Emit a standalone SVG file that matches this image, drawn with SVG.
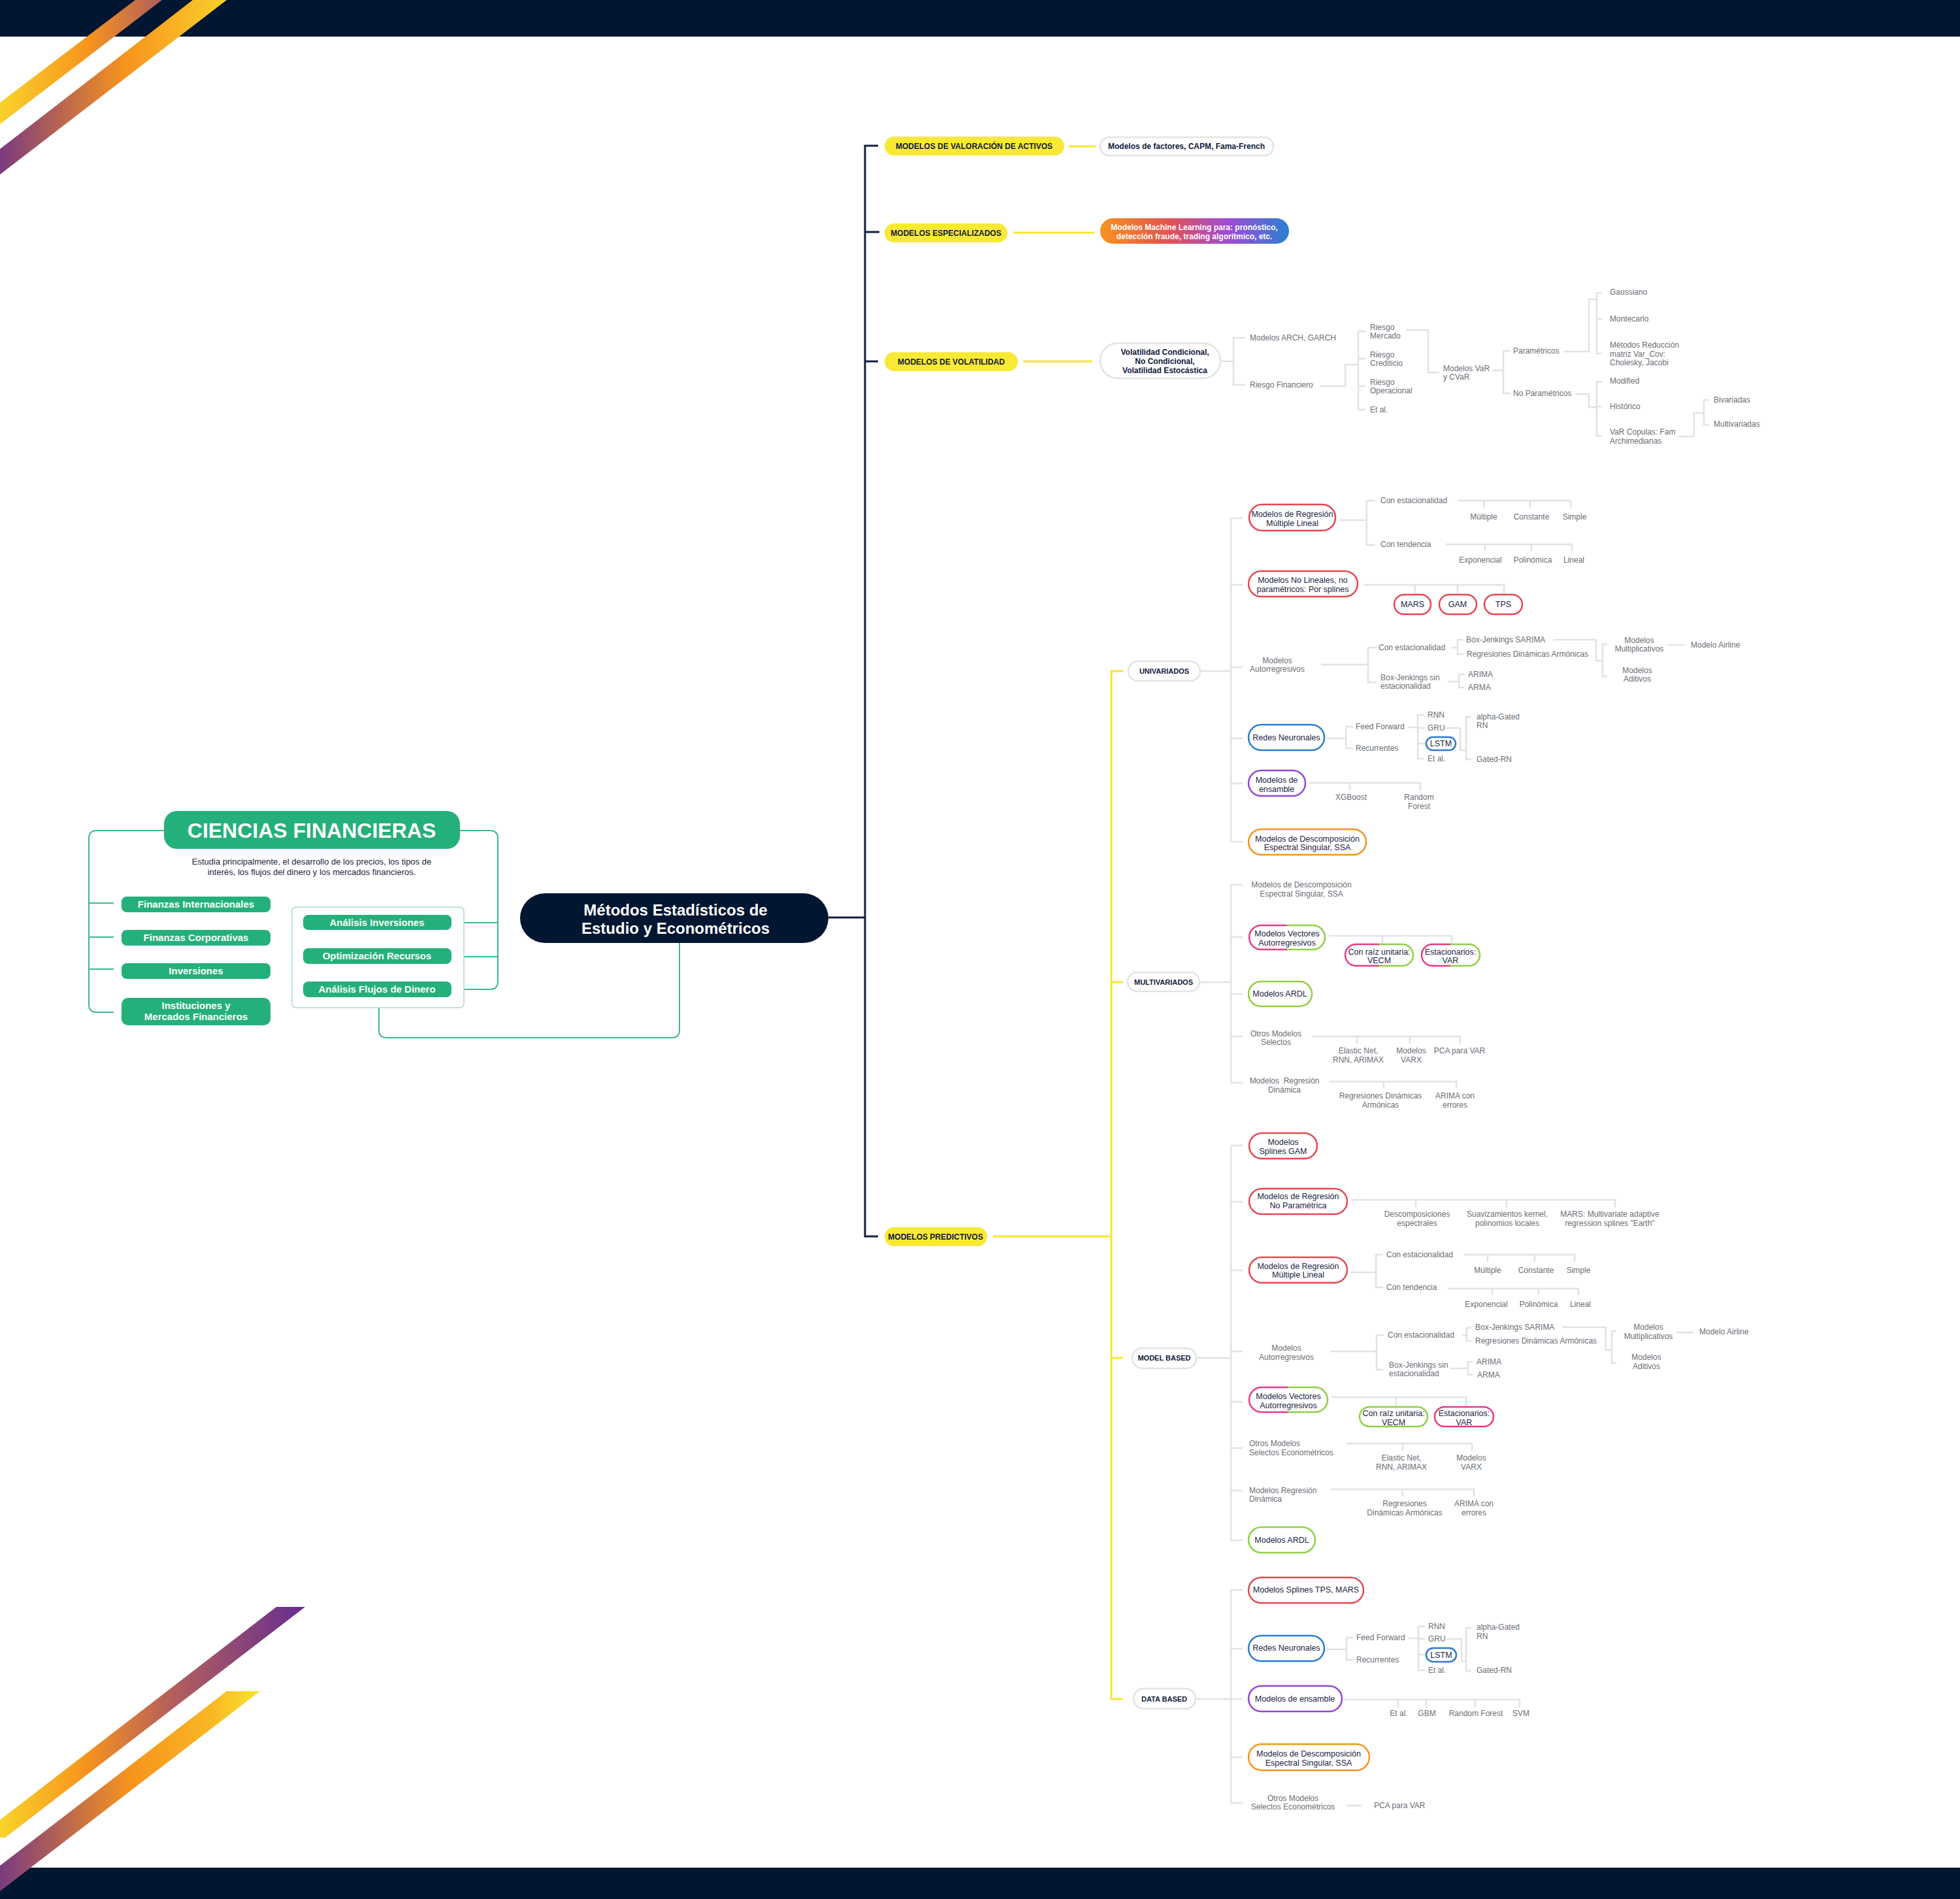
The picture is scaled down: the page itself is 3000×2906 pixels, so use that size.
<svg xmlns="http://www.w3.org/2000/svg" width="3000" height="2906" viewBox="0 0 3000 2906">
<defs>
<linearGradient id="s1" gradientUnits="userSpaceOnUse" x1="0" y1="0" x2="250" y2="0"><stop offset="0" stop-color="#f9d22a"/><stop offset="0.55" stop-color="#f7931e"/><stop offset="1" stop-color="#ae5c5e"/></linearGradient>
<linearGradient id="s2" gradientUnits="userSpaceOnUse" x1="0" y1="0" x2="347" y2="0"><stop offset="0" stop-color="#7b3a80"/><stop offset="0.55" stop-color="#f7931e"/><stop offset="1" stop-color="#f9d02a"/></linearGradient>
<linearGradient id="s3" gradientUnits="userSpaceOnUse" x1="0" y1="0" x2="467" y2="0"><stop offset="0" stop-color="#f9d32a"/><stop offset="0.28" stop-color="#f7941d"/><stop offset="0.55" stop-color="#b7615a"/><stop offset="1" stop-color="#652d91"/></linearGradient>
<linearGradient id="s4" gradientUnits="userSpaceOnUse" x1="0" y1="0" x2="398" y2="0"><stop offset="0" stop-color="#7b3a80"/><stop offset="0.5" stop-color="#f7941d"/><stop offset="0.8" stop-color="#f8b524"/><stop offset="1" stop-color="#f9e52c"/></linearGradient>
<linearGradient id="ml" x1="0" y1="0" x2="1" y2="0"><stop offset="0" stop-color="#f7931e"/><stop offset="0.35" stop-color="#e5534f"/><stop offset="0.68" stop-color="#9f4bd6"/><stop offset="1" stop-color="#2b80d1"/></linearGradient>
<linearGradient id="pg" x1="0" y1="0" x2="1" y2="0"><stop offset="0" stop-color="#e93a82"/><stop offset="0.5" stop-color="#e93a82"/><stop offset="0.5" stop-color="#8fd042"/><stop offset="1" stop-color="#8fd042"/></linearGradient>
</defs>
<style>
text{font-family:'Liberation Sans',Arial,sans-serif}
.lf{fill:#6a6e75;font-size:12px}
.pt{fill:#1a2444;font-size:12.5px}
.b{font-weight:700}
.m{text-anchor:middle}
.yb{fill:#f8e936}
.yt{fill:#10193a;font-size:12px;font-weight:700;text-anchor:middle}
.ct{fill:#10193a;font-size:11px;font-weight:700;text-anchor:middle}
.wp{fill:#fff;stroke:#e3e3e3;stroke-width:2.5}
.red{fill:#fff;stroke:#e6474f;stroke-width:2.5}
.blu{fill:#fff;stroke:#2b7bd1;stroke-width:2.5}
.pur{fill:#fff;stroke:#9346d6;stroke-width:2.5}
.ora{fill:#fff;stroke:#f4931f;stroke-width:2.5}
.grn{fill:#fff;stroke:#8fd042;stroke-width:2.5}
.pnk{fill:#fff;stroke:#e93a82;stroke-width:2.5}
.pgb{fill:#fff;stroke:url(#pg);stroke-width:2.5}
.gp{fill:#24b07a}
.wt{fill:#fff;font-weight:700;font-size:15px;text-anchor:middle}
.g{fill:none;stroke:#e2e2e2;stroke-width:2.5}
.y{fill:none;stroke:#f7e62f;stroke-width:3}
.n{fill:none;stroke:#13203f;stroke-width:3}
.gl{fill:none;stroke:#3cb88a;stroke-width:2}
</style>
<rect x="0" y="0" width="3000" height="2906" fill="#fff"/>
<g id="decor">
<rect x="0" y="0" width="3000" height="56" fill="#011631"/>
<rect x="0" y="2858" width="3000" height="48" fill="#011631"/>
<polygon points="0,157 207,0 248,0 0,190" fill="url(#s1)"/>
<polygon points="0,228 295,0 347,0 0,267" fill="url(#s2)"/>
<polygon points="423,2459 467,2459 8,2812 0,2812 0,2785" fill="url(#s3)"/>
<polygon points="347,2588 398,2588 0,2894 0,2855" fill="url(#s4)"/>
</g>
<g id="connectors">
<path class="gl" d="M251,1271 H148 Q136,1271 136,1283 V1537 Q136,1549 148,1549 H174 M136,1382 H174 M136,1434 H174 M136,1483 H174"/>
<path class="gl" d="M704,1271 H750 Q762,1271 762,1283 V1502 Q762,1514 750,1514 H700 M700,1412 H762 M700,1464 H762"/>
<path class="gl" d="M580,1542 V1576 Q580,1588 592,1588 H1028 Q1040,1588 1040,1576 V1443"/>
<path class="n" d="M1268,1404 H1324 M1344,223 H1324 V1892 H1344 M1324,355 H1346 M1324,553 H1344"/>
<path class="y" d="M1636,224 H1677 M1551,356 H1675 M1566,553 H1672 M1520,1892 H1701 M1719,1027 H1701 V2600 H1719 M1701,1503 H1719 M1701,2078 H1719"/>
<path class="g" d="M1870,553 H1888 M1906,517 H1888 V589 H1906 M2020,591 H2059 V558 H2079 M2090,507 H2079 V627 H2090 M2079,549 H2090 M2079,591 H2090 M2152,505 H2186 V570 H2203 M2285,567 H2301 M2312,537 H2301 V602 H2312 M2394,538 H2432 V458 H2444 M2452,448 H2444 V541 H2452 M2444,488 H2452 M2412,603 H2432 V623 H2444 M2452,584 H2444 V667 H2452 M2444,622 H2452 M2568,668 H2593 V632 H2608 M2616,612 H2608 V650 H2616"/>
<path class="g" d="M1837,1027 H1884 M1836,1503 H1884 M1831,2078 H1884 M1830,2600 H1884"/>
<path class="g" d="M1884,793 V1288 M1884,793 H1902 M1884,895 H1902 M1884,1021 H1902 M1884,1130 H1902 M1884,1199 H1902 M1884,1288 H1902"/>
<path class="g" d="M2050,796 H2092 M2105,766 H2092 V834 H2105 M2232,766 H2404 V777 M2271,766 V777 M2342,766 V777 M2212,833 H2406 V843 M2273,833 V843 M2344,833 V843"/>
<path class="g" d="M2087,895 H2302 V910 M2166,895 V910 M2231,895 V910"/>
<path class="g" d="M2022,1017 H2094 M2107,991 H2094 V1044 H2107 M2222,991 H2231 M2240,979 H2231 V1001 H2240 M2377,979 H2443 V1011 H2453 M2460,986 H2453 V1035 H2460 M2553,987 H2579 M2216,1043 H2233 M2242,1032 H2233 V1052 H2242"/>
<path class="g" d="M2030,1130 H2060 M2071,1112 H2060 V1145 H2071 M2155,1113 H2170 M2180,1094 H2170 V1161 H2180 M2170,1114 H2180 M2170,1138 H2183 M2212,1114 H2235 V1148 H2244 M2252,1097 H2244 V1162 H2252"/>
<path class="g" d="M2004,1198 H2174 V1210 M2066,1198 V1210"/>
<path class="g" d="M1884,1354 V1657 M1884,1354 H1902 M1884,1434 H1902 M1884,1521 H1902 M1884,1586 H1902 M1884,1657 H1902"/>
<path class="g" d="M2034,1432 H2222 V1445 M2116,1432 V1445 M2008,1586 H2235 V1597 M2077,1586 V1597 M2158,1586 V1597 M2034,1655 H2229 V1665 M2118,1655 V1665"/>
<path class="g" d="M1884,1753 V2357 M1884,1753 H1902 M1884,1839 H1902 M1884,1944 H1902 M1884,2068 H1902 M1884,2145 H1902 M1884,2216 H1902 M1884,2281 H1902 M1884,2357 H1902"/>
<path class="g" d="M2068,1836 H2472 V1848 M2167,1836 V1848 M2306,1836 V1848 M2068,1947 H2106 M2117,1920 H2106 V1970 H2117 M2240,1920 H2410 V1931 M2277,1920 V1931 M2349,1920 V1931 M2216,1972 H2416 V1982 M2284,1972 V1982 M2355,1972 V1982"/>
<path class="g" d="M2036,2068 H2107 M2118,2043 H2107 V2096 H2118 M2238,2043 H2245 M2252,2032 H2245 V2052 H2252 M2391,2031 H2458 V2066 H2467 M2474,2037 H2467 V2086 H2474 M2566,2039 H2592 M2220,2094 H2247 M2254,2084 H2247 V2104 H2254"/>
<path class="g" d="M2038,2138 H2244 V2153 M2137,2138 V2153 M2061,2209 H2253 V2220 M2147,2209 V2220 M2037,2279 H2256 V2290 M2147,2279 V2290"/>
<path class="g" d="M1884,2433 V2759 M1884,2433 H1902 M1884,2523 H1902 M1884,2600 H1902 M1884,2689 H1902 M1884,2759 H1902"/>
<path class="g" d="M2030,2524 H2061 M2072,2506 H2061 V2540 H2072 M2156,2507 H2171 M2181,2489 H2171 V2556 H2181 M2171,2508 H2181 M2171,2532 H2183 M2214,2508 H2237 V2542 H2244 M2252,2491 H2244 V2557 H2252 M2058,2601 H2326 V2613 M2140,2601 V2613 M2183,2601 V2613 M2258,2601 V2613 M2061,2763 H2084"/>
</g>
<g id="n-ciencias">
<rect x="251" y="1241" width="453" height="58" rx="20" class="gp"/>
<text x="477" y="1282" fill="#fff" font-size="32" font-weight="700" text-anchor="middle">CIENCIAS FINANCIERAS</text>
<text class="m" fill="#1a2540" font-size="13"><tspan x="477" y="1323">Estudia principalmente, el desarrollo de los precios, los tipos de</tspan><tspan x="477" y="1339">interés, los flujos del dinero y los mercados financieros.</tspan></text>
</g>
<g id="n-fin-int"><rect x="186" y="1372" width="228" height="24" rx="8" class="gp"/><text x="300" y="1389" class="wt">Finanzas Internacionales</text></g>
<g id="n-fin-corp"><rect x="186" y="1423" width="228" height="24" rx="8" class="gp"/><text x="300" y="1440" class="wt">Finanzas Corporativas</text></g>
<g id="n-inversiones"><rect x="186" y="1474" width="228" height="24" rx="8" class="gp"/><text x="300" y="1491" class="wt">Inversiones</text></g>
<g id="n-instituciones"><rect x="186" y="1527" width="228" height="42" rx="10" class="gp"/><text class="wt"><tspan x="300" y="1544">Instituciones y</tspan><tspan x="300" y="1561">Mercados Financieros</tspan></text></g>
<g id="n-inner-box"><rect x="447" y="1388" width="263" height="154" rx="6" fill="#fff" stroke="#a9dcc6" stroke-width="1.5"/></g>
<g id="n-analisis-inv"><rect x="464" y="1400" width="227" height="23" rx="8" class="gp"/><text x="577" y="1417" class="wt">Análisis Inversiones</text></g>
<g id="n-optim"><rect x="464" y="1451" width="227" height="24" rx="8" class="gp"/><text x="577" y="1468" class="wt">Optimización Recursos</text></g>
<g id="n-flujos"><rect x="464" y="1502" width="227" height="24" rx="8" class="gp"/><text x="577" y="1519" class="wt">Análisis Flujos de Dinero</text></g>
<g id="n-central">
<rect x="796" y="1367" width="472" height="76" rx="38" fill="#011631"/>
<text fill="#fff" font-size="24" font-weight="700" text-anchor="middle"><tspan x="1034" y="1401">Métodos Estadísticos de</tspan><tspan x="1034" y="1429">Estudio y Econométricos</tspan></text>
</g>
<g id="n-valoracion"><rect x="1354" y="209" width="275" height="29" rx="14.5" class="yb"/><text x="1491" y="228" class="yt">MODELOS DE VALORACIÓN DE ACTIVOS</text></g>
<g id="n-factores"><rect x="1684" y="210" width="265" height="28" rx="14" class="wp"/><text x="1816" y="228" class="yt">Modelos de factores, CAPM, Fama-French</text></g>
<g id="n-especializados"><rect x="1354" y="342" width="188" height="29" rx="14.5" class="yb"/><text x="1448" y="361" class="yt">MODELOS ESPECIALIZADOS</text></g>
<g id="n-ml"><rect x="1684" y="334" width="289" height="39" rx="19.5" fill="url(#ml)"/><text fill="#fff" font-size="12" font-weight="700" text-anchor="middle"><tspan x="1828" y="352">Modelos Machine Learning para: pronóstico,</tspan><tspan x="1828" y="366">detección fraude, trading algorítmico, etc.</tspan></text></g>
<g id="n-volatilidad"><rect x="1354" y="539" width="204" height="29" rx="14.5" class="yb"/><text x="1456" y="558" class="yt">MODELOS DE VOLATILIDAD</text></g>
<g id="n-vol-cond"><rect x="1684" y="525" width="184" height="54" rx="27" class="wp"/><text class="yt"><tspan x="1783" y="543">Volatilidad Condicional,</tspan><tspan x="1783" y="557">No Condicional,</tspan><tspan x="1783" y="571">Volatilidad Estocástica</tspan></text></g>
<g id="n-vol-leaves">
<text x="1913" y="521" class="lf">Modelos ARCH, GARCH</text>
<text x="1913" y="593" class="lf">Riesgo Financiero</text>
<text class="lf"><tspan x="2097" y="505">Riesgo</tspan><tspan x="2097" y="518">Mercado</tspan></text>
<text class="lf"><tspan x="2097" y="547">Riesgo</tspan><tspan x="2097" y="560">Crediticio</tspan></text>
<text class="lf"><tspan x="2097" y="589">Riesgo</tspan><tspan x="2097" y="602">Operacional</tspan></text>
<text x="2097" y="631" class="lf">Et al.</text>
<text class="lf"><tspan x="2209" y="568">Modelos VaR</tspan><tspan x="2209" y="581">y CVaR</tspan></text>
<text x="2316" y="541" class="lf">Paramétricos</text>
<text x="2316" y="606" class="lf">No Paramétricos</text>
<text x="2464" y="451" class="lf">Gaussiano</text>
<text x="2464" y="492" class="lf">Montecarlo</text>
<text class="lf"><tspan x="2464" y="532">Métodos Reducción</tspan><tspan x="2464" y="546">matriz Var_Cov:</tspan><tspan x="2464" y="559">Cholesky, Jacobi</tspan></text>
<text x="2464" y="587" class="lf">Modified</text>
<text x="2464" y="626" class="lf">Histórico</text>
<text class="lf"><tspan x="2464" y="665">VaR Copulas: Fam</tspan><tspan x="2464" y="679">Archimedianas</tspan></text>
<text x="2623" y="616" class="lf">Bivariadas</text>
<text x="2623" y="653" class="lf">Multivariadas</text>
</g>
<g id="n-predictivos"><rect x="1354" y="1878" width="157" height="29" rx="14.5" class="yb"/><text x="1432" y="1897" class="yt">MODELOS PREDICTIVOS</text></g>
<g id="n-univariados"><rect x="1727" y="1012" width="110" height="30" rx="15" class="wp"/><text x="1782" y="1031" class="ct">UNIVARIADOS</text></g>
<g id="n-multivariados"><rect x="1726" y="1488" width="110" height="29" rx="14.5" class="wp"/><text x="1781" y="1507" class="ct">MULTIVARIADOS</text></g>
<g id="n-modelbased"><rect x="1733" y="2063" width="98" height="31" rx="15.5" class="wp"/><text x="1782" y="2082" class="ct">MODEL BASED</text></g>
<g id="n-databased"><rect x="1735" y="2584" width="95" height="31" rx="15.5" class="wp"/><text x="1782" y="2604" class="ct">DATA BASED</text></g>
<g id="n-uni-regresion">
<rect x="1912" y="772" width="132" height="40" rx="20" class="red"/>
<text class="pt m"><tspan x="1978" y="791">Modelos de Regresión</tspan><tspan x="1978" y="805">Múltiple Lineal</tspan></text>
<text x="2113" y="770" class="lf">Con estacionalidad</text>
<text x="2271" y="795" class="lf m">Múltiple</text><text x="2344" y="795" class="lf m">Constante</text><text x="2410" y="795" class="lf m">Simple</text>
<text x="2113" y="837" class="lf">Con tendencia</text>
<text x="2266" y="861" class="lf m">Exponencial</text><text x="2346" y="861" class="lf m">Polinómica</text><text x="2409" y="861" class="lf m">Lineal</text>
</g>
<g id="n-uni-nolineales">
<rect x="1911" y="874" width="167" height="39" rx="19.5" class="red"/>
<text class="pt m"><tspan x="1994" y="892">Modelos No Lineales, no</tspan><tspan x="1994" y="906">paramétricos: Por splines</tspan></text>
<rect x="2134" y="910" width="56" height="30" rx="15" class="red"/><text x="2162" y="929" class="pt m">MARS</text>
<rect x="2203" y="910" width="57" height="30" rx="15" class="red"/><text x="2231" y="929" class="pt m">GAM</text>
<rect x="2272" y="910" width="58" height="30" rx="15" class="red"/><text x="2301" y="929" class="pt m">TPS</text>
</g>
<g id="n-uni-autorreg">
<text class="lf m"><tspan x="1955" y="1015">Modelos</tspan><tspan x="1955" y="1028">Autorregresivos</tspan></text>
<text x="2110" y="995" class="lf">Con estacionalidad</text>
<text x="2244" y="983" class="lf">Box-Jenkings SARIMA</text>
<text x="2245" y="1005" class="lf">Regresiones Dinámicas Armónicas</text>
<text class="lf m"><tspan x="2509" y="984">Modelos</tspan><tspan x="2509" y="997">Multiplicativos</tspan></text>
<text class="lf m"><tspan x="2506" y="1030">Modelos</tspan><tspan x="2506" y="1043">Aditivos</tspan></text>
<text x="2588" y="991" class="lf">Modelo Airline</text>
<text class="lf"><tspan x="2113" y="1041">Box-Jenkings sin</tspan><tspan x="2113" y="1054">estacionalidad</tspan></text>
<text x="2247" y="1036" class="lf">ARIMA</text>
<text x="2247" y="1056" class="lf">ARMA</text>
</g>
<g id="n-uni-redes">
<rect x="1911" y="1109" width="116" height="39" rx="19.5" class="blu"/><text x="1969" y="1133" class="pt m">Redes Neuronales</text>
<text x="2075" y="1116" class="lf">Feed Forward</text><text x="2075" y="1149" class="lf">Recurrentes</text>
<text x="2185" y="1098" class="lf">RNN</text><text x="2185" y="1118" class="lf">GRU</text>
<rect x="2183" y="1128" width="45" height="20" rx="10" class="blu"/><text x="2205.5" y="1142" class="pt m">LSTM</text>
<text x="2185" y="1165" class="lf">Et al.</text>
<text class="lf"><tspan x="2260" y="1101">alpha-Gated</tspan><tspan x="2260" y="1114">RN</tspan></text>
<text x="2260" y="1166" class="lf">Gated-RN</text>
</g>
<g id="n-uni-ensamble">
<rect x="1911" y="1179" width="87" height="39" rx="19.5" class="pur"/>
<text class="pt m"><tspan x="1954" y="1198">Modelos de</tspan><tspan x="1954" y="1212">ensamble</tspan></text>
<text x="2068" y="1224" class="lf m">XGBoost</text>
<text class="lf m"><tspan x="2172" y="1224">Random</tspan><tspan x="2172" y="1238">Forest</tspan></text>
</g>
<g id="n-uni-ssa">
<rect x="1911" y="1269" width="180" height="39" rx="19.5" class="ora"/>
<text class="pt m"><tspan x="2001" y="1288">Modelos de Descomposición</tspan><tspan x="2001" y="1301">Espectral Singular, SSA</tspan></text>
</g>
<g id="n-mul-ssa"><text class="lf m"><tspan x="1992" y="1358">Modelos de Descomposición</tspan><tspan x="1992" y="1372">Espectral Singular, SSA</tspan></text></g>
<g id="n-mul-vectores">
<rect x="1912" y="1416" width="116" height="37" rx="18.5" class="pgb"/>
<text class="pt m"><tspan x="1970" y="1433">Modelos Vectores</tspan><tspan x="1970" y="1447">Autorregresivos</tspan></text>
<rect x="2059" y="1445" width="104" height="33" rx="16.5" class="pgb"/>
<text class="pt m"><tspan x="2111" y="1461">Con raíz unitaria:</tspan><tspan x="2111" y="1474">VECM</tspan></text>
<rect x="2176" y="1445" width="89" height="33" rx="16.5" class="pgb"/>
<text class="pt m"><tspan x="2220" y="1461">Estacionarios:</tspan><tspan x="2220" y="1474">VAR</tspan></text>
</g>
<g id="n-mul-ardl"><rect x="1911" y="1502" width="97" height="38" rx="19" class="grn"/><text x="1959" y="1525" class="pt m">Modelos ARDL</text></g>
<g id="n-mul-otros">
<text class="lf m"><tspan x="1953" y="1586">Otros Modelos</tspan><tspan x="1953" y="1599">Selectos</tspan></text>
<text class="lf m"><tspan x="2079" y="1612">Elastic Net,</tspan><tspan x="2079" y="1626">RNN, ARIMAX</tspan></text>
<text class="lf m"><tspan x="2160" y="1612">Modelos</tspan><tspan x="2160" y="1626">VARX</tspan></text>
<text x="2234" y="1612" class="lf m">PCA para VAR</text>
</g>
<g id="n-mul-regdin">
<text class="lf m" xml:space="preserve"><tspan x="1966" y="1658">Modelos  Regresión</tspan><tspan x="1966" y="1672">Dinámica</tspan></text>
<text class="lf m"><tspan x="2113" y="1681">Regresiones Dinámicas</tspan><tspan x="2113" y="1695">Armónicas</tspan></text>
<text class="lf m"><tspan x="2227" y="1681">ARIMA con</tspan><tspan x="2227" y="1695">errores</tspan></text>
</g>
<g id="n-mb-gam">
<rect x="1912" y="1734" width="104" height="39" rx="19.5" class="red"/>
<text class="pt m"><tspan x="1964" y="1752">Modelos</tspan><tspan x="1964" y="1766">Splines GAM</tspan></text>
</g>
<g id="n-mb-noparam">
<rect x="1912" y="1819" width="150" height="39" rx="19.5" class="red"/>
<text class="pt m"><tspan x="1987" y="1835">Modelos de Regresión</tspan><tspan x="1987" y="1849">No Paramétrica</tspan></text>
<text class="lf m"><tspan x="2169" y="1862">Descomposiciones</tspan><tspan x="2169" y="1876">espectrales</tspan></text>
<text class="lf m"><tspan x="2307" y="1862">Suavizamientos kernel,</tspan><tspan x="2307" y="1876">polinomios locales</tspan></text>
<text class="lf m"><tspan x="2464" y="1862">MARS: Multivariate adaptive</tspan><tspan x="2464" y="1876">regression splines "Earth"</tspan></text>
</g>
<g id="n-mb-regresion">
<rect x="1912" y="1924" width="150" height="39" rx="19.5" class="red"/>
<text class="pt m"><tspan x="1987" y="1942">Modelos de Regresión</tspan><tspan x="1987" y="1955">Múltiple Lineal</tspan></text>
<text x="2122" y="1924" class="lf">Con estacionalidad</text>
<text x="2277" y="1948" class="lf m">Múltiple</text><text x="2351" y="1948" class="lf m">Constante</text><text x="2416" y="1948" class="lf m">Simple</text>
<text x="2122" y="1974" class="lf">Con tendencia</text>
<text x="2275" y="2000" class="lf m">Exponencial</text><text x="2355" y="2000" class="lf m">Polinómica</text><text x="2419" y="2000" class="lf m">Lineal</text>
</g>
<g id="n-mb-autorreg">
<text class="lf m"><tspan x="1969" y="2067">Modelos</tspan><tspan x="1969" y="2081">Autorregresivos</tspan></text>
<text x="2124" y="2047" class="lf">Con estacionalidad</text>
<text x="2258" y="2035" class="lf">Box-Jenkings SARIMA</text>
<text x="2258" y="2056" class="lf">Regresiones Dinámicas Armónicas</text>
<text class="lf m"><tspan x="2523" y="2035">Modelos</tspan><tspan x="2523" y="2049">Multiplicativos</tspan></text>
<text class="lf m"><tspan x="2520" y="2081">Modelos</tspan><tspan x="2520" y="2095">Aditivos</tspan></text>
<text x="2601" y="2042" class="lf">Modelo Airline</text>
<text class="lf"><tspan x="2126" y="2093">Box-Jenkings sin</tspan><tspan x="2126" y="2106">estacionalidad</tspan></text>
<text x="2260" y="2088" class="lf">ARIMA</text>
<text x="2261" y="2108" class="lf">ARMA</text>
</g>
<g id="n-mb-vectores">
<rect x="1912" y="2123" width="120" height="38" rx="19" class="pgb"/>
<text class="pt m"><tspan x="1972" y="2141">Modelos Vectores</tspan><tspan x="1972" y="2155">Autorregresivos</tspan></text>
<rect x="2081" y="2153" width="104" height="30" rx="15" class="grn"/>
<text class="pt m"><tspan x="2133" y="2167">Con raíz unitaria:</tspan><tspan x="2133" y="2181">VECM</tspan></text>
<rect x="2196" y="2153" width="90" height="30" rx="15" class="pnk"/>
<text class="pt m"><tspan x="2241" y="2167">Estacionarios:</tspan><tspan x="2241" y="2181">VAR</tspan></text>
</g>
<g id="n-mb-otros">
<text class="lf"><tspan x="1912" y="2213">Otros Modelos</tspan><tspan x="1912" y="2227">Selectos Econométricos</tspan></text>
<text class="lf m"><tspan x="2145" y="2235">Elastic Net,</tspan><tspan x="2145" y="2249">RNN, ARIMAX</tspan></text>
<text class="lf m"><tspan x="2252" y="2235">Modelos</tspan><tspan x="2252" y="2249">VARX</tspan></text>
</g>
<g id="n-mb-regdin">
<text class="lf"><tspan x="1912" y="2285">Modelos Regresión</tspan><tspan x="1912" y="2298">Dinámica</tspan></text>
<text class="lf m"><tspan x="2150" y="2305">Regresiones</tspan><tspan x="2150" y="2319">Dinámicas Armónicas</tspan></text>
<text class="lf m"><tspan x="2256" y="2305">ARIMA con</tspan><tspan x="2256" y="2319">errores</tspan></text>
</g>
<g id="n-mb-ardl"><rect x="1911" y="2337" width="102" height="39" rx="19.5" class="grn"/><text x="1962" y="2361" class="pt m">Modelos ARDL</text></g>
<g id="n-db-splines"><rect x="1911" y="2414" width="176" height="39" rx="19.5" class="red"/><text x="1999" y="2437" class="pt m">Modelos Splines TPS, MARS</text></g>
<g id="n-db-redes">
<rect x="1911" y="2503" width="116" height="39" rx="19.5" class="blu"/><text x="1969" y="2526" class="pt m">Redes Neuronales</text>
<text x="2076" y="2510" class="lf">Feed Forward</text><text x="2076" y="2544" class="lf">Recurrentes</text>
<text x="2186" y="2493" class="lf">RNN</text><text x="2186" y="2512" class="lf">GRU</text>
<rect x="2183" y="2522" width="46" height="21" rx="10.5" class="blu"/><text x="2206" y="2537" class="pt m">LSTM</text>
<text x="2186" y="2560" class="lf">Et al.</text>
<text class="lf"><tspan x="2260" y="2494">alpha-Gated</tspan><tspan x="2260" y="2508">RN</tspan></text>
<text x="2260" y="2560" class="lf">Gated-RN</text>
</g>
<g id="n-db-ensamble">
<rect x="1911" y="2580" width="143" height="39" rx="19.5" class="pur"/><text x="1982" y="2604" class="pt m">Modelos de ensamble</text>
<text x="2141" y="2626" class="lf m">Et al.</text><text x="2184" y="2626" class="lf m">GBM</text><text x="2259" y="2626" class="lf m">Random Forest</text><text x="2328" y="2626" class="lf m">SVM</text>
</g>
<g id="n-db-ssa">
<rect x="1911" y="2669" width="185" height="40" rx="20" class="ora"/>
<text class="pt m"><tspan x="2003" y="2688">Modelos de Descomposición</tspan><tspan x="2003" y="2702">Espectral Singular, SSA</tspan></text>
</g>
<g id="n-db-otros">
<text class="lf m"><tspan x="1979" y="2756">Otros Modelos</tspan><tspan x="1979" y="2769">Selectos Econométricos</tspan></text>
<text x="2103" y="2767" class="lf">PCA para VAR</text>
</g>
</svg>
